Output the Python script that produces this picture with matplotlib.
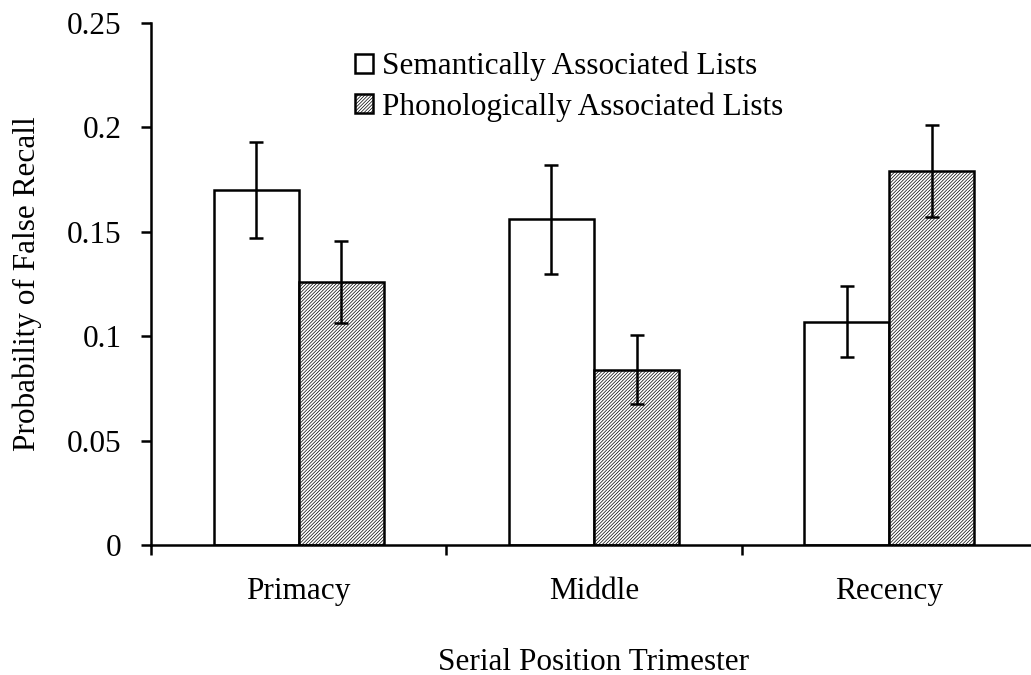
import numpy as np
import matplotlib.pyplot as plt

categories = ['Primacy', 'Middle', 'Recency']
semantic = [0.170, 0.156, 0.107]
semantic_err = [0.023, 0.026, 0.017]
phonological = [0.126, 0.084, 0.179]
phonological_err = [0.0195, 0.0165, 0.022]

plt.rcParams['font.family'] = 'Liberation Serif'
plt.rcParams['hatch.linewidth'] = 0.5

fs = 22.5

fig = plt.figure(figsize=(10.31, 6.75), dpi=100)
ax = fig.add_axes([151 / 1031, 130 / 675, 886 / 1031, 522 / 675])

x = np.arange(len(categories))
width = 0.288

ax.bar(x - width / 2, semantic, width, color='white', edgecolor='black', linewidth=1.8,
       label='Semantically Associated Lists')
ax.bar(x + width / 2, phonological, width, color='white', edgecolor='black', linewidth=1.8,
       hatch='//////////', label='Phonologically Associated Lists')
ax.errorbar(x - width / 2, semantic, yerr=semantic_err, fmt='none', ecolor='black',
            elinewidth=1.8, capsize=5, capthick=1.8)
ax.errorbar(x + width / 2, phonological, yerr=phonological_err, fmt='none', ecolor='black',
            elinewidth=1.8, capsize=5, capthick=1.8)

ax.set_xlim(-0.5, 2.5)
ax.set_ylim(0, 0.25)
ax.set_yticks([0, 0.05, 0.1, 0.15, 0.2, 0.25])
ax.set_yticklabels(['0', '0.05', '0.1', '0.15', '0.2', '0.25'])

# category labels centred, ticks at the boundaries
ax.set_xticks([-0.5, 0.5, 1.5, 2.5])
ax.set_xticklabels([])
ax.set_xticks(x, minor=True)
ax.set_xticklabels(categories, minor=True)
ax.tick_params(axis='x', which='minor', length=0, pad=23, labelsize=fs)
ax.tick_params(axis='x', which='major', length=7, width=1.8, direction='out')
ax.tick_params(axis='y', length=7, width=1.8, direction='out', labelsize=fs, pad=14)

for side in ['top', 'right']:
    ax.spines[side].set_visible(False)
for side in ['left', 'bottom']:
    ax.spines[side].set_linewidth(1.8)

ax.set_xlabel('Serial Position Trimester', fontsize=fs, labelpad=30)
ax.set_ylabel('Probability of False Recall', fontsize=fs, labelpad=18)

ax.legend(loc='upper left', bbox_to_anchor=(0.213, 0.975), frameon=False, fontsize=fs,
          borderpad=0, handlelength=0.55, handleheight=0.55, handletextpad=0.3,
          labelspacing=0.35)

fig.savefig('out.png', dpi=100)
